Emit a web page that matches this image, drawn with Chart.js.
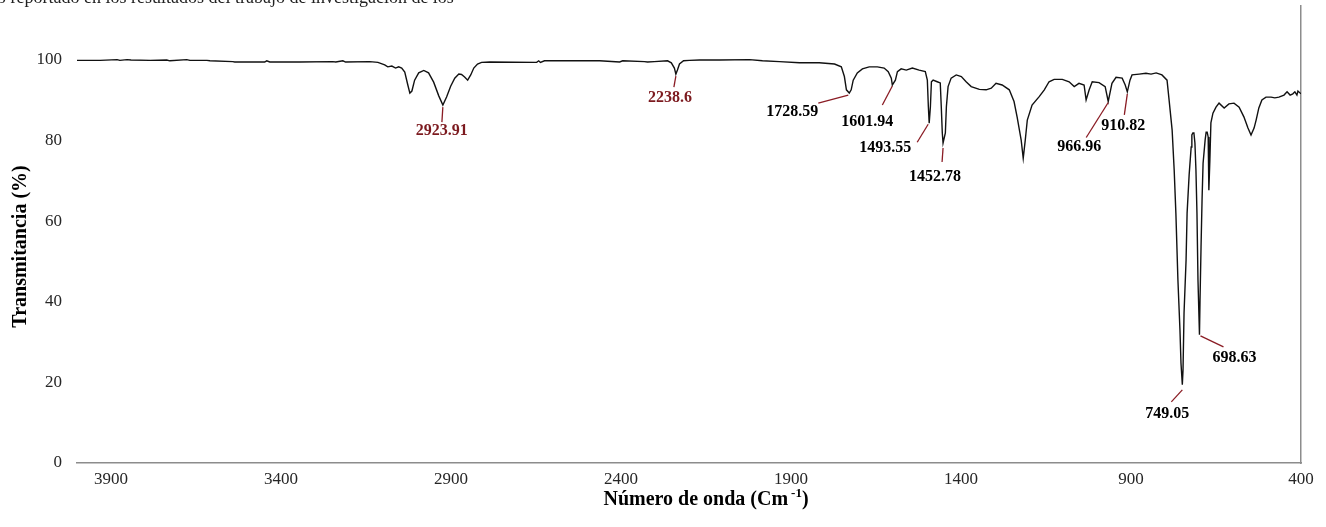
<!DOCTYPE html>
<html>
<head>
<meta charset="utf-8">
<script src="https://cdn.jsdelivr.net/npm/chart.js@4.4.1/dist/chart.umd.min.js"></script>
<style>
  html, body { margin: 0; padding: 0; background: #ffffff; }
  #wrap { width: 1326px; height: 527px; position: relative; }
</style>
</head>
<body>
<div id="wrap"><canvas id="ftir"></canvas></div>
<script>
// FTIR spectrum: wavenumber (cm-1) and transmittance (%)
const wavenumber = [
  4000, 3932, 3882, 3874, 3853, 3841, 3785, 3736, 3727, 3677,
  3668, 3618, 3609, 3542, 3536, 3448, 3442, 3433, 3345, 3248,
  3239, 3218, 3210, 3139, 3115, 3095, 3086, 3074, 3063, 3054,
  3045, 3036, 3027, 3021, 3015, 3007, 2995, 2980, 2966, 2951,
  2936, 2923.91, 2913, 2901, 2889, 2877, 2869, 2860, 2851, 2842,
  2833, 2822, 2810, 2786, 2648, 2642, 2637, 2625, 2463, 2404,
  2395, 2331, 2322, 2302, 2263, 2252, 2243, 2238.6, 2234, 2228,
  2216, 2199, 2169, 2110, 2022, 1984, 1934, 1875, 1817, 1772,
  1752, 1743, 1737, 1728.59, 1723, 1717, 1705, 1690, 1670, 1646,
  1626, 1614, 1605, 1601.94, 1593, 1587, 1576, 1561, 1543, 1523,
  1505, 1499, 1496, 1493.55, 1490, 1487, 1482, 1470, 1461, 1458,
  1455, 1452.78, 1446, 1443, 1438, 1429, 1414, 1399, 1385, 1370,
  1346, 1326, 1311, 1297, 1279, 1258, 1244, 1235, 1223, 1217,
  1211, 1205, 1191, 1170, 1155, 1141, 1126, 1102, 1082, 1067,
  1053, 1038, 1032, 1023, 1014, 994, 976, 966.96, 956, 944,
  926, 917, 910.82, 903, 897, 876, 856, 841, 826, 809,
  794, 788, 779, 773, 768, 762, 756, 753, 749.05, 747,
  744, 738, 735, 729, 723, 721, 718, 715, 712, 709,
  706, 703, 698.63, 697, 694, 691, 688, 682, 679, 676,
  673, 671, 668, 665, 659, 650, 641, 626, 612, 597,
  582, 568, 556, 547, 538, 532, 524, 515, 503, 488,
  477, 465, 450, 441, 432, 424, 418, 412, 409, 400
];

const transmittance = [
  99.9, 99.9, 100.1, 99.9, 100.1, 100.0, 99.9, 100.0, 99.8, 100.1,
  99.9, 99.9, 99.8, 99.6, 99.5, 99.5, 99.8, 99.5, 99.5, 99.6,
  99.5, 99.8, 99.5, 99.6, 99.4, 98.8, 98.3, 98.5, 98.0, 98.3,
  98.0, 97.0, 93.8, 91.8, 92.3, 95.0, 96.8, 97.4, 96.8, 94.5,
  91.1, 88.8, 90.8, 93.5, 95.5, 96.5, 96.4, 95.8, 95.0, 96.3,
  98.0, 99.0, 99.4, 99.5, 99.4, 99.8, 99.4, 99.8, 99.8, 99.5,
  99.8, 99.6, 99.5, 99.6, 99.8, 99.3, 98.0, 96.5, 97.5, 99.0,
  99.8, 99.9, 100.0, 100.0, 100.1, 99.8, 99.6, 99.3, 99.3, 99.0,
  98.3, 95.9, 92.6, 91.8, 92.6, 95.0, 96.8, 97.8, 98.3, 98.3,
  98.0, 97.1, 95.5, 93.8, 95.0, 97.1, 97.8, 97.5, 98.0, 97.5,
  97.1, 95.0, 88.4, 84.3, 88.4, 94.6, 95.0, 94.6, 94.3, 88.4,
  81.9, 79.4, 81.9, 88.4, 93.4, 95.5, 96.3, 95.9, 94.6, 93.4,
  92.7, 92.6, 93.0, 94.2, 93.8, 92.6, 89.7, 85.9, 80.1, 75.6,
  80.1, 85.1, 88.8, 90.9, 92.6, 94.6, 95.2, 95.2, 94.6, 93.4,
  94.2, 93.8, 90.1, 92.6, 94.6, 94.4, 93.4, 89.7, 94.2, 95.7,
  95.5, 93.8, 92.1, 95.0, 96.3, 96.5, 96.7, 96.5, 96.8, 96.3,
  95.0, 90.1, 82.6, 72.7, 62.0, 45.4, 33.0, 24.8, 19.4, 23.1,
  37.2, 50.4, 62.0, 71.5, 78.4, 81.4, 81.9, 81.9, 79.4, 72.7,
  62.0, 45.4, 31.8, 40.4, 53.6, 65.3, 74.4, 80.1, 82.1, 82.1,
  80.9, 67.7, 75.2, 84.4, 86.8, 88.3, 89.3, 88.1, 89.1, 89.3,
  88.3, 85.9, 83.1, 81.4, 83.1, 85.1, 88.1, 90.1, 90.8, 90.8,
  90.6, 90.8, 91.3, 92.1, 91.3, 91.6, 92.1, 91.3, 92.3, 91.6
];

// Axis tick values / labels
const xTickValues = [3900, 3400, 2900, 2400, 1900, 1400, 900, 400];
const yTickValues = [0, 20, 40, 60, 80, 100];

// Assigned bands (wavenumber of each labelled minimum)
const peakLabels = ['2923.91', '2238.6', '1728.59', '1601.94', '1493.55',
                    '1452.78', '966.96', '910.82', '749.05', '698.63'];

const SERIF = '"Liberation Serif", "Times New Roman", Times, serif';
const DARK_RED = '#7c1a1f';

// Callout geometry (pixel offsets from the band minimum) and colours
const calloutStyle = {
  '2923.91': { start: [0, 2],  end: [-1, 17],  text: [-1, 26],  color: DARK_RED },
  '2238.6':  { start: [0, 2],  end: [-2, 13],  text: [-6, 24],  color: DARK_RED },
  '1728.59': { start: [-1, 2], end: [-31, 10], text: [-57, 19], color: '#000' },
  '1601.94': { start: [0, 1],  end: [-10, 20], text: [-25, 37], color: '#000' },
  '1493.55': { start: [-1, 1], end: [-12, 19], text: [-44, 25], color: '#000' },
  '1452.78': { start: [0, 5],  end: [-1, 19],  text: [-8, 34],  color: '#000' },
  '966.96':  { start: [0, 1],  end: [-22, 36], text: [-29, 45], color: '#000' },
  '910.82':  { start: [0, 2],  end: [-3, 23],  text: [-4, 34],  color: '#000' },
  '749.05':  { start: [0, 5],  end: [-11, 17], text: [-15, 29], color: '#000' },
  '698.63':  { start: [1, 1],  end: [24, 12],  text: [35, 23],  color: '#000' }
};

const points = wavenumber.map((w, i) => ({ x: w, y: transmittance[i] }));

// Partial line of running text above the figure
const headerText = {
  id: 'headerText',
  beforeDraw(chart) {
    const ctx = chart.ctx;
    ctx.save();
    ctx.font = '18px ' + SERIF;
    ctx.fillStyle = '#222';
    ctx.textAlign = 'left';
    ctx.textBaseline = 'alphabetic';
    ctx.fillText('o reportado en los resultados del trabajo de investigación de los', -3, 3);
    ctx.restore();
  }
};

// Axis titles (the x title carries a superscript exponent)
const axisTitles = {
  id: 'axisTitles',
  afterDraw(chart) {
    const ctx = chart.ctx;
    const area = chart.chartArea;
    ctx.save();
    ctx.fillStyle = '#000';
    ctx.textBaseline = 'alphabetic';

    // vertical title
    ctx.save();
    ctx.font = 'bold 20px ' + SERIF;
    ctx.translate(26, area.top + (area.bottom - area.top) / 2 + 12);
    ctx.rotate(-Math.PI / 2);
    ctx.textAlign = 'center';
    ctx.fillText('Transmitancia (%)', 0, 0);
    ctx.restore();

    // horizontal title: "Número de onda (Cm" + superscript "-1" + ")"
    const main = 'Número de onda (Cm';
    const sup = '-1';
    const close = ')';
    const bigFont = 'bold 20px ' + SERIF;
    const supFont = 'bold 13px ' + SERIF;
    ctx.font = bigFont;
    const wMain = ctx.measureText(main).width;
    const wClose = ctx.measureText(close).width;
    ctx.font = supFont;
    const wSup = ctx.measureText(sup).width;
    const gap = 3;
    const total = wMain + gap + wSup + wClose;
    const cx = (area.left + area.right) / 2 + 17;
    const baseY = 505;
    let x = cx - total / 2;
    ctx.textAlign = 'left';
    ctx.font = bigFont;
    ctx.fillText(main, x, baseY);
    x += wMain + gap;
    ctx.font = supFont;
    ctx.fillText(sup, x, baseY - 8);
    x += wSup;
    ctx.font = bigFont;
    ctx.fillText(close, x, baseY);
    ctx.restore();
  }
};

// Band labels with leader lines
const bandCallouts = {
  id: 'bandCallouts',
  afterDatasetsDraw(chart) {
    const ctx = chart.ctx;
    const xs = chart.scales.x, ys = chart.scales.y;
    ctx.save();
    peakLabels.forEach(label => {
      const w = parseFloat(label);
      const idx = wavenumber.indexOf(w);
      if (idx < 0) return;
      const px = xs.getPixelForValue(w);
      const py = ys.getPixelForValue(transmittance[idx]);
      const st = calloutStyle[label];
      ctx.strokeStyle = '#8a1c24';
      ctx.lineWidth = 1.3;
      ctx.beginPath();
      ctx.moveTo(px + st.start[0], py + st.start[1]);
      ctx.lineTo(px + st.end[0], py + st.end[1]);
      ctx.stroke();
      ctx.font = 'bold 16px ' + SERIF;
      ctx.fillStyle = st.color;
      ctx.textAlign = 'center';
      ctx.textBaseline = 'middle';
      ctx.fillText(label, px + st.text[0], py + st.text[1]);
    });
    ctx.restore();
  }
};

function noEdgePadding(s) {
  s.paddingTop = 0;
  s.paddingBottom = 0;
  s.paddingLeft = 0;
  s.paddingRight = 0;
}

new Chart(document.getElementById('ftir'), {
  type: 'line',
  data: {
    datasets: [{
      label: 'Transmitancia',
      data: points,
      borderColor: '#111111',
      borderWidth: 1.4,
      pointRadius: 0,
      tension: 0,
      fill: false
    }]
  },
  options: {
    responsive: true,
    maintainAspectRatio: false,
    animation: false,
    devicePixelRatio: 1,
    layout: { padding: { top: 6, right: 25, left: 0, bottom: 0 } },
    plugins: {
      legend: { display: false },
      title: { display: false },
      tooltip: { enabled: false }
    },
    scales: {
      x: {
        type: 'linear',
        reverse: true,
        min: 400,
        max: 4000,
        grid: { display: false, drawTicks: false },
        border: { display: true, color: '#8c8c8c', width: 1.5 },
        ticks: {
          font: { family: SERIF, size: 17 },
          color: '#262626',
          padding: 6,
          maxRotation: 0,
          autoSkip: false,
          callback: v => String(v)
        },
        title: { display: false },
        afterBuildTicks: s => { s.ticks = xTickValues.map(v => ({ value: v })); },
        afterFit: s => { s.height = 64; noEdgePadding(s); }
      },
      y: {
        min: 0,
        max: 113.4,
        grid: { display: false, drawTicks: false },
        border: { display: false },
        ticks: {
          font: { family: SERIF, size: 17 },
          color: '#262626',
          padding: 15,
          callback: v => String(v)
        },
        title: { display: false },
        afterBuildTicks: s => { s.ticks = yTickValues.map(v => ({ value: v })); },
        afterFit: s => { s.width = 77; noEdgePadding(s); }
      },
      yRight: {
        position: 'right',
        min: 0,
        max: 113.4,
        grid: { display: false, drawTicks: false },
        ticks: { display: false },
        border: { display: true, color: '#8c8c8c', width: 1.5 },
        afterFit: s => { s.width = 0; noEdgePadding(s); }
      }
    }
  },
  plugins: [headerText, bandCallouts, axisTitles]
});
</script>
</body>
</html>
